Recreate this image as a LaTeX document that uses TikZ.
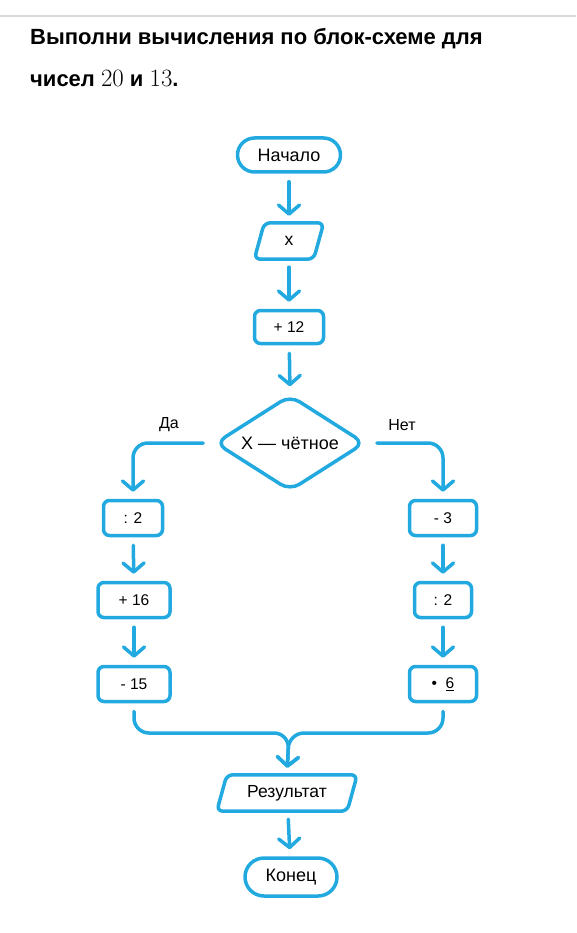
\documentclass[tikz,border=0pt]{standalone}
\usepackage{fontspec}
\newfontfamily\flowfont{Liberation Sans}
\usetikzlibrary{arrows.meta,shapes.geometric,calc}

\definecolor{flowblue}{HTML}{22A9E0}

\begin{document}
\begin{tikzpicture}[x=1pt, y=-1pt,
    >={Straight Barb[length=9pt, width=21pt, round]},
    flowline/.style={flowblue, line width=3.5pt, line cap=round, line join=round},
    flow/.style={flowline, ->, shorten <=8pt, shorten >=7pt},
    box/.style={flowline, draw, rounded corners=6pt, minimum height=35pt,
      inner sep=0pt, text=black, font=\flowfont\fontsize{15.5}{18}\selectfont},
    term/.style={box, rounded corners=17pt, font=\flowfont\fontsize{18}{20}\selectfont},
    io/.style={inner sep=0pt, minimum height=36pt, text=black,
      font=\flowfont\fontsize{17.5}{20}\selectfont},
    ioline/.style={flowline, rounded corners=6pt},
    cond/.style={box, diamond, aspect=2, rounded corners=11pt, minimum width=150pt,
      minimum height=96pt, font=\flowfont\fontsize{18}{20}\selectfont},
    lbl/.style={font=\flowfont\fontsize{16}{18}\selectfont}]
  \useasboundingbox (0,0) rectangle (576,933);

  % top rule and task text
  \draw[black!15, line width=1.5pt] (0,16) -- (576,16);
  \node[anchor=base west, inner sep=0pt, font=\flowfont\bfseries\fontsize{22}{26}\selectfont]
    (task1) at (30,45) {Выполни вычисления по блок-схеме для};
  \node[anchor=base west, inner sep=0pt, font=\flowfont\bfseries\fontsize{22}{26}\selectfont]
    (task2) at (30,87) {чисел {\fontsize{26}{28}\selectfont$20$} и {\fontsize{26}{28}\selectfont$13$}.};

  % main column
  \node[term, minimum width=103pt, minimum height=34pt] (start) at (289,155) {Начало};
  \node[io, minimum width=59pt] (xin) at (289,241) {x};
  \draw[ioline] ($(xin.north west)+(5,0)$) -- ($(xin.north east)+(5,0)$)
    -- ($(xin.south east)+(-5,0)$) -- ($(xin.south west)+(-5,0)$) -- cycle;
  \node[box, minimum width=69pt, minimum height=33pt] (add12) at (289,327) {+ 12};
  \node[cond] (even) at (290,443) {X — чётное};

  % yes branch
  \node[box, minimum width=59pt] (div2a) at (133,518) {: 2};
  \node[box, minimum width=72pt] (add16) at (134,600) {+ 16};
  \node[box, minimum width=72pt] (sub15) at (134,684) {- 15};

  % no branch
  \node[box, minimum width=67pt] (sub3) at (443,518) {- 3};
  \node[box, minimum width=57pt] (div2b) at (443,600) {: 2};
  \node[box, minimum width=67pt] (mul6) at (443,684) {•~~\underline{6}};

  % output and end
  \node[io, minimum width=130pt] (res) at (287,793) {Результат};
  \draw[ioline] ($(res.north west)+(5,0)$) -- ($(res.north east)+(5,0)$)
    -- ($(res.south east)+(-5,0)$) -- ($(res.south west)+(-5,0)$) -- cycle;
  \node[term, minimum width=92pt, minimum height=38pt, rounded corners=19pt] (finish) at (291,877) {Конец};

  \node[lbl] (yes) at (169,425) {Да};
  \node[lbl] (no) at (402,425) {Нет};
  \coordinate (merge) at (289,733);

  % connectors
  \draw[flow] (start) -- (xin);
  \draw[flow] (xin) -- (add12);
  \draw[flow] (add12) -- (even.north);
  \draw[flow, rounded corners=15pt, shorten <=10pt] (even.west) -| (div2a.north);
  \draw[flow, rounded corners=15pt, shorten <=10pt] (even.east) -| (sub3.north);
  \draw[flow] (div2a) -- (add16);
  \draw[flow] (add16) -- (sub15);
  \draw[flow] (sub3) -- (div2b);
  \draw[flow] (div2b) -- (mul6);
  \draw[flow, rounded corners=15pt] (sub15.south) |- (merge) -- (res.north);
  \draw[flow, rounded corners=15pt] (mul6.south) |- (merge) -- (res.north);
  \draw[flow] (res) -- (finish);
\end{tikzpicture}
\end{document}
